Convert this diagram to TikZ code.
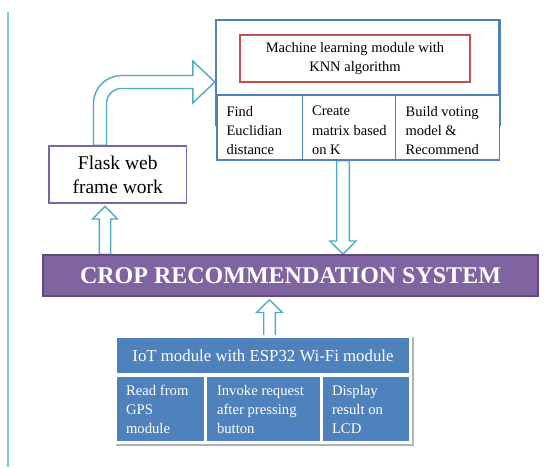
\documentclass[tikz,border=0pt]{standalone}
\usepackage{fontspec}
\setmainfont{Liberation Serif}
\usetikzlibrary{calc,backgrounds,shadows}

\definecolor{accblue}{HTML}{4F81BD}
\definecolor{acccyan}{HTML}{4BACC6}
\definecolor{accred}{HTML}{C0504D}
\definecolor{accpurple}{HTML}{8064A2}
\definecolor{darkpurple}{HTML}{5E4A7E}
\definecolor{railcyan}{HTML}{7CC8DC}

\newcommand\fsz[2]{\fontsize{#1}{#2}\selectfont}

% hollow vertical block arrow: base, tip, shaft half width, head half width, head length
\newcommand\vblockarrow[5]{%
  \path[hollow] let \p1=(#1), \p2=(#2), \n1={sign(\y2-\y1)} in
    ({\x1-#3},\y1) -- ({\x1-#3},{\y2-\n1*#5}) -- ({\x1-#4},{\y2-\n1*#5}) -- (\x1,\y2)
    -- ({\x1+#4},{\y2-\n1*#5}) -- ({\x1+#3},{\y2-\n1*#5}) -- ({\x1+#3},\y1) -- cycle;}

\begin{document}
\begin{tikzpicture}[x=1pt,y=-1pt,
  hollow/.style={draw=acccyan, fill=white, line width=1.4pt, line join=miter},
  mlframe/.style={draw=accblue, line width=2.4pt, fill=white, inner sep=0pt,
    drop shadow={shadow xshift=1.5pt, shadow yshift=-1.5pt, fill=black, opacity=0.15}},
  mlcell/.style={draw=accblue, line width=1.2pt, fill=white, inner sep=0pt, minimum height=65},
  celltext/.style={inner sep=0pt, align=left, font=\fsz{14.5}{19.3}},
  redbox/.style={draw=accred, line width=1.6pt, fill=white, inner sep=0pt, align=center,
    font=\fsz{14.5}{19.5}},
  flaskbox/.style={draw=accpurple, line width=1.5pt, fill=white, inner sep=0pt, align=center,
    font=\fsz{19.5}{24}},
  cropbar/.style={draw=darkpurple, line width=1.5pt, fill=accpurple, inner sep=0pt,
    text=white, font=\fsz{24}{28}\bfseries},
  iotframe/.style={fill=white, inner sep=0pt,
    drop shadow={shadow xshift=1.5pt, shadow yshift=-1.8pt, fill=black, opacity=0.3}},
  iotcell/.style={fill=accblue, inner sep=0pt, text=white},
  iottext/.style={inner sep=0pt, align=left, text=white, font=\fsz{14.7}{19}},
]
\useasboundingbox (0,0) rectangle (545,467);

% side rule
\draw[railcyan, line width=1.3pt] (8,12) -- (8,467);

% machine learning block
\node[mlframe, minimum width=283.5, minimum height=105] (mltop) at (357.75,72.5) {};
\node[redbox, minimum width=230, minimum height=47] (knn) at (355,58.5)
  {Machine learning module with\\KNN algorithm};
\node[mlcell, minimum width=85.5] (c1) at (259.75,127.5) {};
\node[mlcell, minimum width=93] (c2) at (349,127.5) {};
\node[mlcell, minimum width=104] (c3) at (447.5,127.5) {};
\node[celltext, anchor=west] (t1) at ([xshift=10,yshift=-3]c1.west) {Find\\Euclidian\\distance};
\node[celltext, anchor=west] (t2) at ([xshift=10,yshift=-3]c2.west) {Create\\matrix based\\on K};
\node[celltext, anchor=west] (t3) at ([xshift=10.5,yshift=-3]c3.west) {Build voting\\model \&\\Recommend};

% web framework
\node[flaskbox, minimum width=137.5, minimum height=57] (flask) at (117.75,174.5)
  {Flask web\\frame work};

% central system bar
\node[cropbar, minimum width=495, minimum height=41] (crop) at (290.5,275.5)
  {CROP RECOMMENDATION SYSTEM};

% IoT block
\node[iotframe, minimum width=298, minimum height=109] (iot) at (263,389.5) {};
\node[iotcell, minimum width=292, minimum height=35, font=\fsz{16.8}{20}] (iothead) at (263,355.5)
  {IoT module with ESP32 Wi-Fi module};
\node[iotcell, minimum width=87, minimum height=64] (i1) at (160.5,409) {};
\node[iotcell, minimum width=113, minimum height=64] (i2) at (263.5,409) {};
\node[iotcell, minimum width=86, minimum height=64] (i3) at (366,409) {};
\node[iottext, anchor=west] (u1) at ([xshift=9]i1.west) {Read from\\GPS\\module};
\node[iottext, anchor=west] (u2) at ([xshift=10]i2.west) {Invoke request\\after pressing\\button};
\node[iottext, anchor=west] (u3) at ([xshift=9]i3.west) {Display\\result on\\LCD};

% connector end points
\coordinate (flout) at ([xshift=-17.75]flask.north);
\coordinate (mlin) at ([yshift=-9.5]mltop.west);
\coordinate (a2tip) at ([xshift=-12.75,yshift=-2.5]flask.south);
\coordinate (a2base) at (a2tip |- crop.north);
\coordinate (a3base) at ([xshift=-6]c2.south);
\coordinate (a3tip) at (a3base |- crop.north);
\coordinate (a4base) at ([xshift=6.5]iothead.north);
\coordinate (a4foot) at (a4base |- crop.south);
\coordinate (a4tip) at ([yshift=-3]a4foot);

\begin{scope}[on background layer]
  % bent arrow from the web framework to the learning module
  \path[hollow] let \p1=(flout), \p2=(mlin) in
    ({\x1-6.5},\y1) -- ({\x1-6.5},{\y2+6.5-28}) arc[start angle=180,end angle=90,radius=28pt]
    -- ({\x2-22},{\y2+6.5}) -- ({\x2-22},{\y2+21}) -- (\x2,\y2) -- ({\x2-22},{\y2-21})
    -- ({\x2-22},{\y2-6.5}) -- ({\x1+6.5+15},{\y2-6.5}) arc[start angle=90,end angle=180,radius=15pt]
    -- ({\x1+6.5},\y1) -- cycle;
  \vblockarrow{a2base}{a2tip}{5.7}{12.3}{12.7}
  \vblockarrow{a3base}{a3tip}{6.3}{13}{13.3}
  \vblockarrow{a4base}{a4tip}{5.8}{12.8}{12.7}
\end{scope}
\end{tikzpicture}
\end{document}
